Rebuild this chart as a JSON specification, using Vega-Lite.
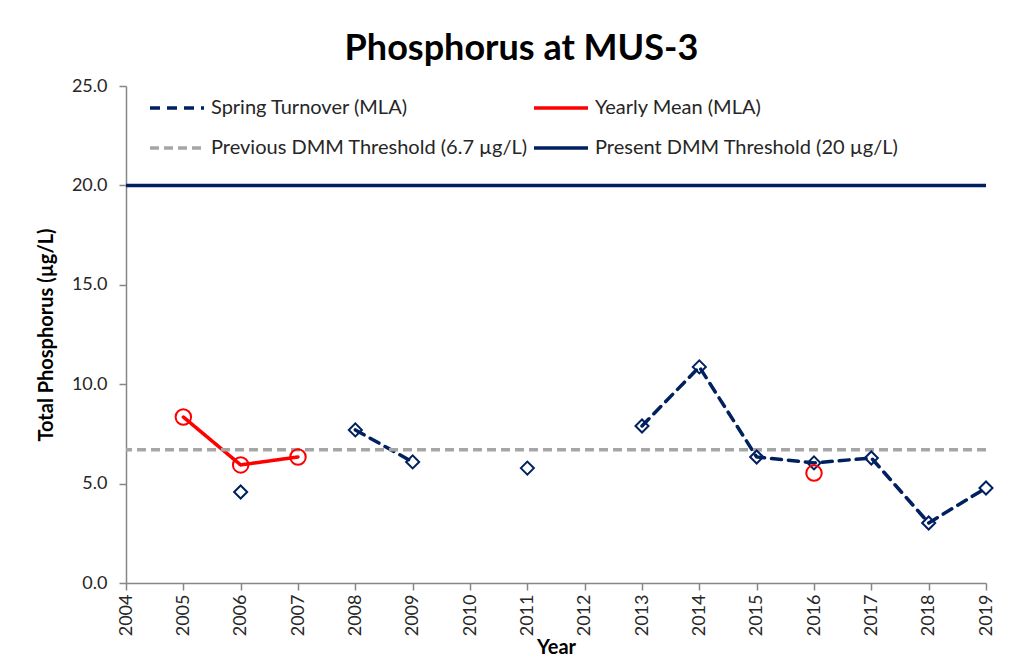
{
  "$schema": "https://vega.github.io/schema/vega-lite/v6.json",
  "width": 860,
  "height": 497,
  "autosize": "none",
  "padding": {"left": 126, "top": 86, "right": 35, "bottom": 76},
  "background": "white",
  "title": {
    "text": "Phosphorus at MUS-3",
    "font": "Lato",
    "fontSize": 36,
    "fontWeight": "bold",
    "color": "#000000",
    "anchor": "middle",
    "frame": "bounds",
    "offset": 9,
    "dx": 5
  },
  "config": {
    "view": {"stroke": null},
    "font": "Lato",
    "axis": {
      "grid": false,
      "domainColor": "#868686",
      "domainWidth": 1.5,
      "tickColor": "#868686",
      "tickWidth": 1.5,
      "tickSize": 7,
      "labelFont": "Lato",
      "labelFontSize": 18,
      "labelColor": "#262626",
      "titleFont": "Lato",
      "titleFontSize": 20,
      "titleFontWeight": "bold",
      "titleColor": "#000000"
    },
    "legend": {
      "labelFont": "Lato",
      "labelFontSize": 20,
      "labelColor": "#262626",
      "labelLimit": 500
    }
  },
  "datasets": {
    "obs": [
      {"year": 2006, "value": 4.58, "series": "Spring Turnover (MLA)"},
      {"year": 2007, "value": null, "series": "Spring Turnover (MLA)"},
      {"year": 2008, "value": 7.7, "series": "Spring Turnover (MLA)"},
      {"year": 2009, "value": 6.09, "series": "Spring Turnover (MLA)"},
      {"year": 2010, "value": null, "series": "Spring Turnover (MLA)"},
      {"year": 2011, "value": 5.78, "series": "Spring Turnover (MLA)"},
      {"year": 2012, "value": null, "series": "Spring Turnover (MLA)"},
      {"year": 2013, "value": 7.9, "series": "Spring Turnover (MLA)"},
      {"year": 2014, "value": 10.87, "series": "Spring Turnover (MLA)"},
      {"year": 2015, "value": 6.34, "series": "Spring Turnover (MLA)"},
      {"year": 2016, "value": 6.04, "series": "Spring Turnover (MLA)"},
      {"year": 2017, "value": 6.29, "series": "Spring Turnover (MLA)"},
      {"year": 2018, "value": 3.02, "series": "Spring Turnover (MLA)"},
      {"year": 2019, "value": 4.78, "series": "Spring Turnover (MLA)"},
      {"year": 2005, "value": 8.35, "series": "Yearly Mean (MLA)"},
      {"year": 2006, "value": 5.94, "series": "Yearly Mean (MLA)"},
      {"year": 2007, "value": 6.34, "series": "Yearly Mean (MLA)"},
      {"year": 2008, "value": null, "series": "Yearly Mean (MLA)"},
      {"year": 2016, "value": 5.53, "series": "Yearly Mean (MLA)"}
    ],
    "thresholds": [
      {"value": 6.7, "series": "Previous DMM Threshold (6.7 µg/L)"},
      {"value": 20, "series": "Present DMM Threshold (20 µg/L)"}
    ]
  },
  "layer": [
    {
      "data": {"name": "obs"},
      "mark": {"type": "line", "strokeWidth": 3.5, "invalid": "break-paths-show-domains", "strokeCap": "round"},
      "encoding": {
        "x": {
          "field": "year",
          "type": "quantitative",
          "title": "Year",
          "scale": {"domain": [2004, 2019], "nice": false, "zero": false},
          "axis": {
            "values": [2004, 2005, 2006, 2007, 2008, 2009, 2010, 2011, 2012, 2013, 2014, 2015, 2016, 2017, 2018, 2019],
            "format": "d",
            "labelAngle": -90,
            "labelPadding": 4,
            "titlePadding": 2
          }
        },
        "y": {
          "field": "value",
          "type": "quantitative",
          "title": "Total Phosphorus (µg/L)",
          "scale": {"domain": [0, 25], "nice": false},
          "axis": {
            "values": [0, 5, 10, 15, 20, 25],
            "format": ".1f",
            "labelPadding": 12,
            "titlePadding": 15
          }
        },
        "color": {
          "field": "series",
          "type": "nominal",
          "scale": {
            "domain": ["Spring Turnover (MLA)", "Previous DMM Threshold (6.7 µg/L)", "Yearly Mean (MLA)", "Present DMM Threshold (20 µg/L)"],
            "range": ["#002060", "#A6A6A6", "#FF0000", "#002060"]
          },
          "legend": {
            "title": null,
            "orient": "none",
            "legendX": 31,
            "legendY": 2,
            "columns": 2,
            "columnPadding": -1,
            "rowPadding": 10,
            "symbolType": "M-1.5,0L1.5,0",
            "symbolSize": 1296,
            "symbolStrokeWidth": 3.5,
            "labelOffset": 14
          }
        },
        "strokeDash": {
          "field": "series",
          "type": "nominal",
          "scale": {
            "domain": ["Spring Turnover (MLA)", "Previous DMM Threshold (6.7 µg/L)", "Yearly Mean (MLA)", "Present DMM Threshold (20 µg/L)"],
            "range": [[10, 7], [9, 5], [1, 0], [1, 0]]
          }
        }
      }
    },
    {
      "data": {"name": "thresholds"},
      "mark": {"type": "rule", "strokeWidth": 3.5},
      "encoding": {
        "y": {"field": "value", "type": "quantitative"},
        "color": {"field": "series", "type": "nominal"},
        "strokeDash": {"field": "series", "type": "nominal"}
      }
    },
    {
      "data": {"name": "obs"},
      "transform": [{"filter": "isValid(datum.value)"}],
      "mark": {"type": "point", "filled": false, "strokeWidth": 2, "opacity": 1},
      "encoding": {
        "x": {"field": "year", "type": "quantitative"},
        "y": {"field": "value", "type": "quantitative"},
        "stroke": {
          "field": "series", "type": "nominal", "legend": null,
          "scale": {"domain": ["Spring Turnover (MLA)", "Yearly Mean (MLA)"], "range": ["#002060", "#FF0000"]}
        },
        "shape": {
          "field": "series", "type": "nominal", "legend": null,
          "scale": {"domain": ["Spring Turnover (MLA)", "Yearly Mean (MLA)"], "range": ["diamond", "circle"]}
        },
        "size": {
          "field": "series", "type": "nominal", "legend": null,
          "scale": {"domain": ["Spring Turnover (MLA)", "Yearly Mean (MLA)"], "range": [170, 240]}
        }
      }
    }
  ],
  "resolve": {"scale": {"color": "shared", "strokeDash": "shared"}}
}
